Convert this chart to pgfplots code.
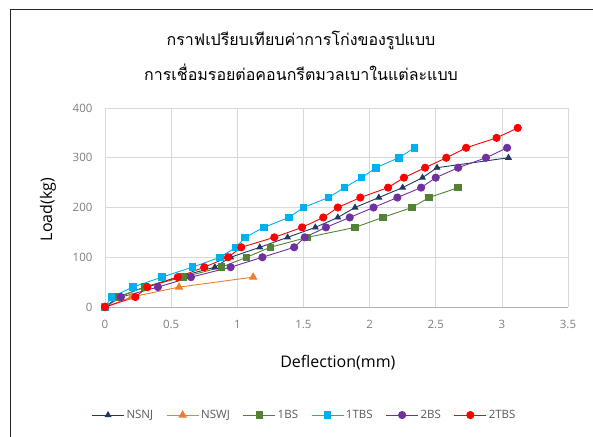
\documentclass[border=0pt]{standalone}
\usepackage{pgfplots}
\pgfplotsset{compat=1.18}
\usepackage{fontspec}
\setmainfont{Open Sans}
\newfontfamily\thaifont[Script=Thai]{Loma}
\definecolor{cNSNJ}{HTML}{203864}
\definecolor{cNSWJ}{HTML}{ED7D31}
\definecolor{c1BS}{HTML}{548235}
\definecolor{c1TBS}{HTML}{00B0F0}
\definecolor{c2BS}{HTML}{7030A0}
\definecolor{c2TBS}{HTML}{FF0000}
\definecolor{gridc}{HTML}{D9D9D9}
\definecolor{tickc}{HTML}{7F7F7F}
\definecolor{legc}{HTML}{595959}
\begin{document}
\begin{tikzpicture}[x=1pt,y=1pt]
\useasboundingbox (0,0) rectangle (593,436);
\draw[black!85, line width=0.9pt] (10,427) -- (10,-20);
\draw[black!85, line width=0.9pt] (10,427) -- (620,427);
\node[font=\thaifont\fontsize{16}{18}\selectfont] at (301,396) {กราฟเปรียบเทียบค่าการโก่งของรูปแบบ};
\node[font=\thaifont\fontsize{16}{18}\selectfont] at (301,364) {การเชื่อมรอยต่อคอนกรีตมวลเบาในแต่ละแบบ};
\begin{axis}[
  at={(105pt,129pt)}, anchor=south west,
  scale only axis, width=463pt, height=199pt,
  xmin=0, xmax=3.5, ymin=0, ymax=400,
  xtick={0,0.5,1,1.5,2,2.5,3,3.5},
  xticklabels={0,0.5,1,1.5,2,2.5,3,3.5},
  ytick={0,100,200,300,400},
  grid=major,
  grid style={gridc, line width=0.7pt},
  axis line style={draw=none},
  major tick length=0pt,
  tick label style={font=\fontsize{11.5}{13}\selectfont, text=tickc},
  /pgf/number format/assume math mode=true,
  xticklabel style={yshift=-10pt},
  yticklabel style={xshift=-9pt},
  xlabel={Deflection(mm)},
  ylabel={Load(kg)},
  label style={font=\fontsize{16}{18}\selectfont},
  xlabel style={at={(axis description cs:0.503,-0.282)}, anchor=center},
  ylabel style={at={(axis description cs:-0.123,0.49)}, anchor=center},
  legend columns=6,
  legend style={at={(axis description cs:0.431,-0.543)}, anchor=center, draw=none,
    font=\fontsize{11.5}{13}\selectfont, text=legc,
    /tikz/every even column/.append style={column sep=11pt}},
  legend cell align=left,
  legend image code/.code={\draw[mark repeat=2,mark phase=2,#1] plot coordinates {(0pt,0pt) (16pt,0pt) (32pt,0pt)};},
  every axis plot/.append style={line width=0.9pt},
]
\draw[black!30, line width=0.9pt] (axis cs:0,0) -- (axis cs:3.5,0);
\addplot[cNSNJ, mark=triangle*, mark size=3.2pt, mark options={fill=cNSNJ}] coordinates {
(0,0) (0.10,20) (0.30,40) (0.55,60) (0.83,80) (0.95,100) (1.17,120) (1.38,140) (1.59,160) (1.76,180) (1.89,200) (2.07,220) (2.25,240) (2.40,260) (2.51,280) (3.05,300)};
\addlegendentry{NSNJ}
\addplot[cNSWJ, mark=triangle*, mark size=4pt, mark options={fill=cNSWJ}] coordinates {
(0,0) (0.20,20) (0.56,40) (1.12,60)};
\addlegendentry{NSWJ}
\addplot[c1BS, mark=square*, mark size=3.3pt, mark options={fill=c1BS}] coordinates {
(0,0) (0.10,20) (0.30,40) (0.59,60) (0.88,80) (1.07,100) (1.25,120) (1.53,140) (1.89,160) (2.10,180) (2.32,200) (2.45,220) (2.67,240)};
\addlegendentry{1BS}
\addplot[c1TBS, mark=square*, mark size=3.3pt, mark options={fill=c1TBS}] coordinates {
(0,0) (0.05,20) (0.21,40) (0.43,60) (0.66,80) (0.87,100) (0.99,120) (1.06,140) (1.20,160) (1.39,180) (1.50,200) (1.69,220) (1.81,240) (1.94,260) (2.05,280) (2.22,300) (2.34,320)};
\addlegendentry{1TBS}
\addplot[c2BS, mark=*, mark size=3.6pt, mark options={fill=c2BS}] coordinates {
(0,0) (0.12,20) (0.40,40) (0.65,60) (0.95,80) (1.19,100) (1.43,120) (1.51,140) (1.67,160) (1.85,180) (2.03,200) (2.21,220) (2.39,240) (2.50,260) (2.67,280) (2.88,300) (3.04,320)};
\addlegendentry{2BS}
\addplot[c2TBS, mark=*, mark size=3.6pt, mark options={fill=c2TBS}] coordinates {
(0,0) (0.23,20) (0.32,40) (0.55,60) (0.75,80) (0.93,100) (1.03,120) (1.28,140) (1.49,160) (1.65,180) (1.76,200) (1.93,220) (2.14,240) (2.26,260) (2.42,280) (2.58,300) (2.73,320) (2.96,340) (3.12,360)};
\addlegendentry{2TBS}
\end{axis}
\end{tikzpicture}
\end{document}
